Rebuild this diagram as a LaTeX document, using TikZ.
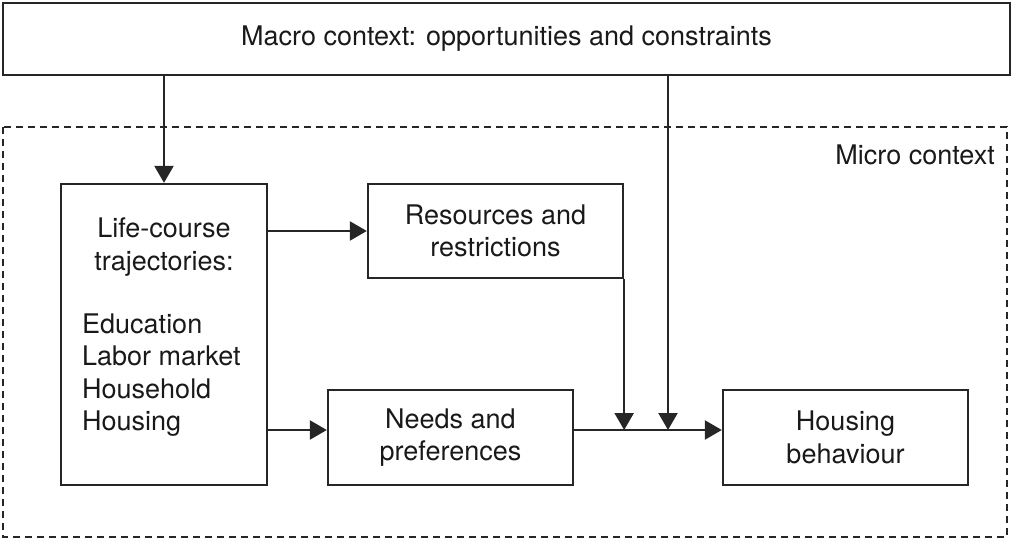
\documentclass[tikz,border=0pt]{standalone}
\usepackage{fontspec}
\setmainfont{TeX Gyre Heros}
\usepackage{tikz}
\usetikzlibrary{arrows.meta}
\usetikzlibrary{calc}

\begin{document}
\begin{tikzpicture}[x=1pt, y=-1pt,
    every node/.style={font=\fontsize{27}{32.5}\selectfont, text=black!90},
    box/.style={draw=black!85, line width=2.3pt, inner sep=0pt, align=center},
    arr/.style={draw=black!85, line width=2.3pt, -{Triangle[length=17pt, width=19pt]}}]
  \useasboundingbox (0,0) rectangle (1013,540);
  % outer contexts
  \node[box, minimum width=1007, minimum height=72] (macro) at (506.5,39) {Macro context: opportunities and constraints};
  \draw[black!85, line width=2.3pt, dash pattern=on 7pt off 5pt] (3,127) rectangle (1007,537);
  \node[anchor=east, inner sep=0pt] (micro) at (995,155) {Micro context};
  % boxes
  \node[box, minimum width=206, minimum height=301] (life) at (164,334.5) {};
  \node[align=center, inner sep=0pt] (lifehead) at (164,247) {Life-course\\trajectories:};
  \node[align=left, anchor=west, inner sep=0pt] (lifelist) at (82,375) {Education\\Labor market\\Household\\Housing};
  \node[box, minimum width=255, minimum height=94] (res) at (495.5,231) {Resources and\\restrictions};
  \node[box, minimum width=245, minimum height=95] (needs) at (450.5,437.5) {Needs and\\preferences};
  \node[box, minimum width=245, minimum height=95] (housing) at (845.5,437.5) {Housing\\behaviour};
  % flow line
  \coordinate (flow) at (0,430);
  \coordinate (join1) at (res.south east |- flow);
  \coordinate (join2) at (668,430);
  \draw[arr] (macro.south -| life.north) -- (life.north);
  \draw[arr] (macro.south -| join2) -- (join2);
  \draw[arr] (life.east |- res.west) -- (res.west);
  \draw[arr] (life.east |- flow) -- (needs.west |- flow);
  \draw[arr] (res.south east) -- (join1);
  \draw[arr] (needs.east |- flow) -- (housing.west |- flow);
\end{tikzpicture}
\end{document}
